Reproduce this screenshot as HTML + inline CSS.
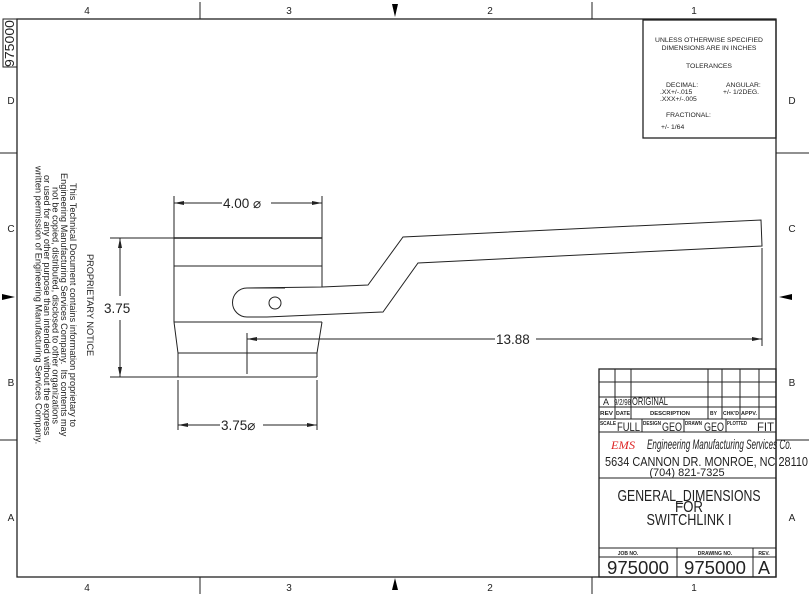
<!DOCTYPE html>
<html><head><style>
body{margin:0;background:#fff;width:809px;height:596px;overflow:hidden;position:relative;font-family:"Liberation Sans",sans-serif}
svg{position:absolute;left:0;top:0}
.n{position:absolute;writing-mode:vertical-rl;left:28px;top:150px;height:310px;width:66px;font-size:9.2px;line-height:8.6px;text-align:center;color:#222;white-space:nowrap}
</style></head><body>
<svg width="809" height="596" viewBox="0 0 809 596" font-family="Liberation Sans, sans-serif" fill="none" stroke="#222" stroke-width="1">
<rect x="17" y="19" width="759" height="558" stroke-width="1.3"/>
<line x1="200" y1="2" x2="200" y2="19"/><line x1="592" y1="2" x2="592" y2="19"/>
<line x1="200" y1="577" x2="200" y2="594"/><line x1="592" y1="577" x2="592" y2="594"/>
<line x1="0" y1="153" x2="17" y2="153"/><line x1="0" y1="440" x2="17" y2="440"/>
<line x1="776" y1="153" x2="809" y2="153"/><line x1="776" y1="440" x2="809" y2="440"/>
<g fill="#000" stroke="none">
<polygon points="392,4 398,4 395,17"/><polygon points="392,590 398,590 395,578"/>
<polygon points="2,294 2,300 15,297"/><polygon points="792,294 792,300 779,297"/>
</g>
<g fill="#222" stroke="none" font-size="10" text-anchor="middle">
<text x="87" y="14">4</text><text x="289" y="14">3</text><text x="490" y="14">2</text><text x="694" y="14">1</text>
<text x="87" y="591">4</text><text x="289" y="591">3</text><text x="490" y="591">2</text><text x="694" y="591">1</text>
<text x="11" y="104">D</text><text x="11" y="232">C</text><text x="11" y="386">B</text><text x="11" y="521">A</text>
<text x="792" y="104">D</text><text x="792" y="232">C</text><text x="792" y="386">B</text><text x="792" y="521">A</text>
</g>
<rect x="3" y="19" width="14" height="48"/>
<text x="0" y="0" transform="translate(14,67) rotate(-90)" fill="#222" stroke="none" font-size="13" textLength="47" lengthAdjust="spacingAndGlyphs">975000</text>
<rect x="643" y="20" width="133" height="118" stroke-width="1.3"/>
<g fill="#222" stroke="none" font-size="6.8">
<text x="709" y="42" text-anchor="middle">UNLESS OTHERWISE SPECIFIED</text>
<text x="709" y="50" text-anchor="middle">DIMENSIONS ARE IN INCHES</text>
<text x="709" y="68" text-anchor="middle">TOLERANCES</text>
<text x="666" y="87">DECIMAL:</text>
<text x="726" y="87">ANGULAR:</text>
<text x="660" y="94">.XX+/-.015</text>
<text x="723" y="94">+/- 1/2DEG.</text>
<text x="660" y="101">.XXX+/-.005</text>
<text x="666" y="117">FRACTIONAL:</text>
<text x="661" y="129">+/- 1/64</text>
</g>
<g stroke-width="1">
<line x1="174" y1="238" x2="322" y2="238" stroke-width="1.6"/>
<line x1="174" y1="266" x2="322" y2="266"/>
<line x1="174" y1="238" x2="174" y2="322"/><line x1="322" y1="238" x2="322" y2="287"/>
<line x1="174" y1="322" x2="322" y2="322"/>
<polyline points="174,322 178,353 178,377"/><polyline points="322,322 317,353 317,377"/>
<line x1="178" y1="353" x2="317" y2="353"/>
<line x1="178" y1="377" x2="317" y2="377"/>
<path d="M285,288 L247,288 A14.5,14.5 0 0 0 247,317 L267,317"/>
<polyline points="247,288 322,287 368,285 403,237 761,220 762,246 418,263 383,312 267,317"/>
<circle cx="275" cy="303" r="6"/>
<line x1="174" y1="196" x2="174" y2="238"/><line x1="322" y1="196" x2="322" y2="238"/>
<line x1="174" y1="203" x2="222" y2="203"/><line x1="271" y1="203" x2="322" y2="203"/>
<line x1="110" y1="238" x2="174" y2="238"/><line x1="110" y1="377" x2="178" y2="377"/>
<line x1="120" y1="238" x2="120" y2="296"/><line x1="120" y1="320" x2="120" y2="377"/>
<line x1="178" y1="380" x2="178" y2="430"/><line x1="317" y1="380" x2="317" y2="430"/>
<line x1="178" y1="425" x2="220" y2="425"/><line x1="263" y1="425" x2="317" y2="425"/>
<line x1="762" y1="248" x2="762" y2="346"/><line x1="247" y1="333" x2="247" y2="374"/>
<line x1="247" y1="339" x2="495" y2="339"/><line x1="536" y1="339" x2="762" y2="339"/>
</g>
<g fill="#222" stroke="none">
<polygon points="174,203 184,201 184,205"/><polygon points="322,203 312,201 312,205"/>
<polygon points="120,238 118,248 122,248"/><polygon points="120,377 118,367 122,367"/>
<polygon points="178,425 188,423 188,427"/><polygon points="317,425 307,423 307,427"/>
<polygon points="247,339 257,337 257,341"/><polygon points="762,339 752,337 752,341"/>
<g font-size="13.5">
<text x="223" y="208">4.00  ⌀</text>
<text x="104" y="313">3.75</text>
<text x="221" y="430">3.75⌀</text>
<text x="496" y="344">13.88</text>
</g>
</g>
<g stroke-width="1">
<rect x="599" y="369" width="177" height="208" stroke-width="1.3"/>
<line x1="599" y1="382" x2="776" y2="382"/><line x1="599" y1="397" x2="776" y2="397"/>
<line x1="599" y1="407" x2="776" y2="407"/><line x1="599" y1="419" x2="776" y2="419"/>
<line x1="599" y1="432" x2="776" y2="432"/><line x1="599" y1="478" x2="776" y2="478"/>
<line x1="599" y1="548" x2="776" y2="548"/><line x1="599" y1="557" x2="776" y2="557"/>
<line x1="615" y1="369" x2="615" y2="419"/><line x1="631" y1="369" x2="631" y2="419"/>
<line x1="708" y1="369" x2="708" y2="419"/><line x1="722" y1="369" x2="722" y2="419"/>
<line x1="740" y1="369" x2="740" y2="419"/><line x1="759" y1="369" x2="759" y2="419"/>
<line x1="642" y1="419" x2="642" y2="432"/><line x1="684" y1="419" x2="684" y2="432"/><line x1="726" y1="419" x2="726" y2="432"/>
<line x1="677" y1="548" x2="677" y2="577"/><line x1="753" y1="548" x2="753" y2="577"/>
</g>
<g fill="#222" stroke="none" lengthAdjust="spacingAndGlyphs">
<text x="603" y="405" font-size="9">A</text>
<text x="614" y="405" font-size="8" textLength="17" lengthAdjust="spacingAndGlyphs">9/2/98</text>
<text x="632" y="405" font-size="11" textLength="36" lengthAdjust="spacingAndGlyphs">ORIGINAL</text>
<g font-size="5" font-weight="bold">
<text x="600" y="415" textLength="13" lengthAdjust="spacingAndGlyphs">REV</text><text x="616" y="415" textLength="14" lengthAdjust="spacingAndGlyphs">DATE</text><text x="650" y="415" textLength="40" lengthAdjust="spacingAndGlyphs">DESCRIPTION</text>
<text x="710" y="415">BY</text><text x="723" y="415" textLength="16" lengthAdjust="spacingAndGlyphs">CHK'D</text><text x="741" y="415" textLength="16" lengthAdjust="spacingAndGlyphs">APPV.</text>
<text x="600" y="425" textLength="16" lengthAdjust="spacingAndGlyphs">SCALE</text><text x="643" y="425" textLength="18" lengthAdjust="spacingAndGlyphs">DESIGN</text><text x="685" y="425" textLength="17" lengthAdjust="spacingAndGlyphs">DRAWN</text><text x="727" y="425" textLength="20" lengthAdjust="spacingAndGlyphs">PLOTTED</text>
<text x="628" y="555" text-anchor="middle">JOB NO.</text><text x="715" y="555" text-anchor="middle">DRAWING NO.</text><text x="764" y="555" text-anchor="middle">REV.</text>
</g>
<g font-size="12"><text x="617" y="431" textLength="23" lengthAdjust="spacingAndGlyphs">FULL</text><text x="662" y="431" textLength="20" lengthAdjust="spacingAndGlyphs">GEO</text><text x="704" y="431" textLength="20" lengthAdjust="spacingAndGlyphs">GEO</text><text x="757" y="431" textLength="17" lengthAdjust="spacingAndGlyphs">FIT</text></g>
<text x="611" y="449" font-size="12" font-style="italic" fill="#d22" font-family="Liberation Serif,serif" textLength="24" lengthAdjust="spacingAndGlyphs">EMS</text>
<text x="647" y="449" font-size="14" font-style="italic" textLength="145" lengthAdjust="spacingAndGlyphs">Engineering Manufacturing Services Co.</text>
<text x="605" y="466" font-size="12.5" textLength="203" lengthAdjust="spacingAndGlyphs">5634 CANNON DR. MONROE, NC 28110</text>
<text x="687" y="476" font-size="11" text-anchor="middle">(704) 821-7325</text>
<g font-size="16" text-anchor="middle">
<text x="689" y="501" textLength="143" lengthAdjust="spacingAndGlyphs">GENERAL_DIMENSIONS</text>
<text x="689" y="512" textLength="28" lengthAdjust="spacingAndGlyphs">FOR</text>
<text x="689" y="525" textLength="85" lengthAdjust="spacingAndGlyphs">SWITCHLINK I</text>
</g>
<g font-size="18" text-anchor="middle"><text x="638" y="574" textLength="62" lengthAdjust="spacingAndGlyphs">975000</text><text x="715" y="574" textLength="62" lengthAdjust="spacingAndGlyphs">975000</text><text x="764" y="574">A</text></g>
</g>
</svg>
<div class="n">PROPRIETARY NOTICE<br><br>This Technical Document contains information proprietary to<br>Engineering Manufacturing Services Company.&nbsp; Its contents may<br>not be copied, distributed, disclosed to other organizations<br>or used for any other purpose than intended without the express<br>written permission of Engineering Manufacturing Services Company.</div>
</body></html>
